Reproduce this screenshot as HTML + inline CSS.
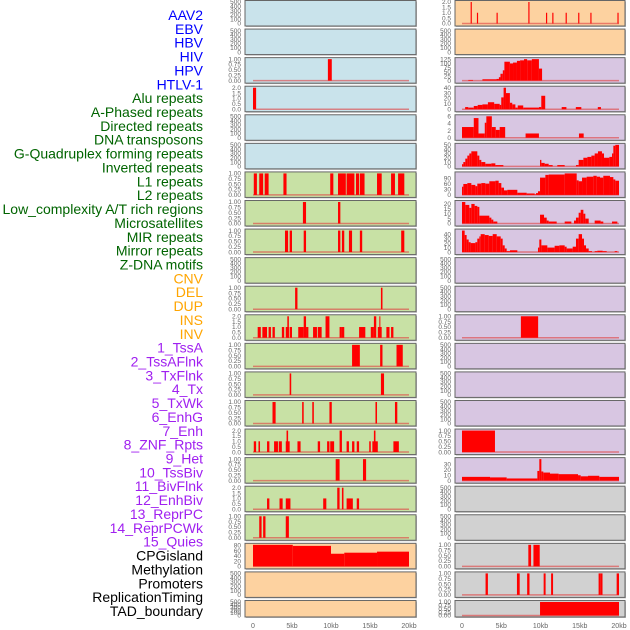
<!DOCTYPE html>
<html><head><meta charset="utf-8"><style>
html,body{margin:0;padding:0;background:#fff;width:630px;height:630px;overflow:hidden}
svg{display:block;font-family:"Liberation Sans",sans-serif}
</style></head><body>
<svg id="chart" width="630" height="630" viewBox="0 0 630 630"></svg>
<script>
// ---- labels ----
const trackLabels=["AAV2","EBV","HBV","HIV","HPV","HTLV-1","Alu repeats","A-Phased repeats","Directed repeats","DNA transposons","G-Quadruplex forming repeats","Inverted repeats","L1 repeats","L2 repeats","Low_complexity A/T rich regions","Microsatellites","MIR repeats","Mirror repeats","Z-DNA motifs","CNV","DEL","DUP","INS","INV","1_TssA","2_TssAFlnk","3_TxFlnk","4_Tx","5_TxWk","6_EnhG","7_Enh","8_ZNF_Rpts","9_Het","10_TssBiv","11_BivFlnk","12_EnhBiv","13_ReprPC","14_ReprPCWk","15_Quies","CPGisland","Methylation","Promoters","ReplicationTiming","TAD_boundary"];
const labelGroups=[6,13,5,15,5];
const xTickKb=[0,5,10,15,20];
const xTickLabels=["0","5kb","10kb","15kb","20kb"];
// ---- tick label sets ----
const T500=["0","100","200","300","400","500"];
const T1=["0.00","0.25","0.50","0.75","1.00"];
const T2=["0.0","0.5","1.0","1.5","2.0"];
const T125=["0","25","50","75","100","125"];
const T40=["0","10","20","30","40"];
const T6=["0","2","4","6"];
const T50=["0","10","20","30","40","50"];
const T90=["0","30","60","90"];
const T20=["0","5","10","15","20"];
const T30=["0","10","20","30"];
const T80=["0","20","40","60","80"];
// ---- series: [startKb,endKb,value] ----
const hivLeft=[[9.6,10.1,1]];
const hpvLeft=[[0,0.4,2]];
const l1Left=[[0.1,0.5,1],[0.8,1.3,1],[1.5,2.0,1],[3.9,4.3,1],[9.9,10.3,1],[10.9,11.9,1],[12.0,13.0,1],[13.2,13.6,1],[13.7,14.3,1],[15.9,16.5,1],[17.7,18.2,1],[18.6,19.4,1]];
const l2Left=[[6.4,6.8,1],[10.9,11.2,1]];
const lowCompLeft=[[4.1,4.5,1],[4.7,5.0,1],[6.5,6.8,1],[10.9,11.2,1],[11.4,11.7,1],[12.3,12.7,1],[13.7,14.0,1],[19.0,19.4,1]];
const delLeft=[[5.4,5.7,1],[16.4,16.6,1]];
const dupLeft=[[0.6,1.0,1],[1.2,1.8,1],[2.0,2.3,1],[2.5,2.8,1],[3.7,4.0,1],[4.2,4.6,1],[4.4,4.6,2],[4.7,5.0,1],[5.8,6.5,1],[6.5,6.8,2],[6.8,7.1,1],[7.7,8.2,1],[8.3,8.8,1],[9.3,9.8,2],[11.1,11.4,1],[11.4,11.7,1],[13.6,14.4,1],[15.1,15.5,1],[15.5,15.8,2],[16.0,16.5,1],[16.2,16.3,2],[17.1,17.5,1],[17.7,18.0,1]];
const insLeft=[[12.7,13.7,1],[16.3,16.6,1],[18.4,19.2,1]];
const invLeft=[[4.7,4.9,1],[16.4,16.8,1]];
const tssaLeft=[[2.5,2.9,1],[6.3,6.5,1],[7.6,7.8,1],[9.8,10.1,1],[15.7,15.9,1],[18.2,18.5,1]];
const flnkLeft=[[0.1,0.4,1],[0.7,0.9,1],[1.8,2.1,1],[2.7,3.2,1],[3.3,3.7,1],[4.2,4.7,1],[4.3,4.5,2],[5.7,6.1,1],[8.3,8.6,1],[9.5,9.8,1],[9.9,10.4,1],[11.1,11.4,2],[12.0,12.3,1],[12.7,13.0,1],[13.3,13.6,1],[14.9,15.1,1],[15.3,16.0,1],[15.5,15.7,2],[18.0,18.7,1]];
const txLeft=[[10.6,11.1,1],[14.1,14.5,1]];
const txwkLeft=[[1.8,2.1,1],[3.4,3.8,1],[4.2,4.8,1],[9.0,9.4,1],[10.8,11.1,2],[11.4,11.6,2],[12.0,12.8,1],[13.3,13.6,1]];
const enhgLeft=[[0.8,1.1,1],[1.3,1.6,1],[4.2,4.6,1]];
const methylLeft=[[0,5.1,82],[5.1,10.0,78],[10.0,11.7,48],[11.7,15.9,52],[15.9,20,56]];
const aavRight=[[1.1,1.25,2],[1.9,2.05,1],[4.4,4.55,1],[8.45,8.6,2],[10.7,10.85,1],[11.5,11.65,1],[13.2,13.35,1],[14.8,14.95,1],[16.35,16.5,1],[19.8,19.95,1]];
const hivRight=[[0.8,1.4,4],[2.6,4.4,8],[4.4,4.7,10],[4.7,4.9,20],[4.9,5.2,40],[5.2,5.4,60],[5.4,6.1,110],[6.1,6.5,100],[6.5,7.0,105],[7.0,7.4,115],[7.4,7.9,118],[7.9,8.3,125],[8.3,8.9,118],[8.9,9.8,125],[9.8,10.2,70]];
const hpvRight=[[0.4,0.8,4],[0.8,1.5,3],[1.5,2.0,6],[2.0,2.6,8],[2.6,3.3,9],[3.3,4.1,13],[4.1,4.8,10],[4.8,5.0,8],[5.0,5.3,22],[5.3,5.6,40],[5.6,6.1,30],[6.1,6.4,12],[6.4,6.8,9],[6.8,7.1,3],[7.1,7.8,7],[7.8,9.8,3],[9.8,10.1,4],[10.1,10.6,25],[12.7,13.3,4],[14.5,15.2,4],[17.3,17.7,4]];
const aluRight=[[0,1.5,3],[1.5,2.1,5.5],[2.1,2.9,1.2],[2.9,3.1,4.2],[3.1,3.8,6],[3.8,4.3,3],[4.3,4.8,2.2],[4.8,5.5,3],[8.1,9.8,1.2],[14.9,15.5,1.2]];
const gquadRight=[[0,0.17,5],[0.17,0.42,10],[0.42,0.68,18],[0.68,0.93,25],[0.93,1.19,30],[1.19,1.95,35],[1.95,2.21,25],[2.21,2.46,15],[2.46,2.97,10],[2.97,3.74,6],[3.74,4.25,7],[4.25,5.27,3],[9.94,10.11,15],[10.11,10.53,8],[10.53,11.04,6],[11.04,11.55,3],[12.14,13.08,3],[14.52,14.86,3],[14.86,15.46,15],[15.46,15.97,20],[15.97,16.48,22],[16.48,16.9,25],[16.9,17.32,30],[17.32,17.83,35],[17.83,18.09,30],[18.09,18.77,20],[18.77,19.11,22],[19.11,19.28,30],[19.28,19.53,48],[19.53,20,50]];
const l1Right=[[0,0.17,45],[0.17,0.68,60],[0.68,1.19,65],[1.19,1.7,55],[1.7,1.95,48],[1.95,2.46,62],[2.46,2.97,65],[2.97,3.48,62],[3.48,4.25,75],[4.25,4.67,78],[4.67,5.01,65],[5.01,5.35,40],[5.35,5.77,25],[5.77,7.05,28],[7.05,8.24,12],[8.24,9.26,8],[9.26,9.43,3],[9.43,9.68,10],[9.68,9.94,20],[9.94,10.62,95],[10.62,11.04,110],[11.04,13.08,112],[13.08,14.61,118],[14.61,14.86,80],[14.86,15.29,75],[15.29,15.88,95],[15.88,16.73,100],[16.73,17.16,105],[17.16,17.58,100],[17.58,18.0,95],[18.0,18.85,105],[18.85,19.28,98],[19.28,19.53,85],[19.53,20,78]];
const lowCompRight=[[0,0.42,22],[0.42,0.93,19],[0.93,1.19,16],[1.19,1.61,20],[1.61,1.95,18],[1.95,2.21,17],[2.21,3.48,8],[3.48,3.74,6],[3.74,3.99,4],[3.99,4.5,2],[9.94,10.45,9],[10.45,10.79,6],[10.79,11.04,3],[11.04,12.06,2],[13.08,13.93,2],[14.27,14.52,3],[14.52,14.86,6],[14.86,15.12,11],[15.12,15.46,14],[15.46,15.71,10],[15.71,16.14,5],[16.9,17.66,3],[17.66,18.0,2],[19.11,19.79,2]];
const mirRight=[[0,0.34,48],[0.34,0.59,38],[0.59,0.85,28],[0.85,1.1,22],[1.1,1.7,20],[1.7,1.95,22],[1.95,2.21,30],[2.21,2.38,35],[2.38,2.89,40],[2.89,3.4,38],[3.4,3.91,36],[3.91,4.42,40],[4.42,4.93,35],[4.93,5.18,30],[5.18,5.44,15],[5.44,5.69,8],[5.69,6.11,2],[6.11,7.05,4],[9.68,9.85,10],[9.85,10.11,28],[10.11,10.87,15],[10.87,11.8,10],[11.8,12.4,14],[12.4,13.08,15],[13.08,13.33,12],[13.33,14.1,8],[14.1,14.52,12],[14.52,14.86,30],[14.86,15.29,40],[15.29,15.54,30],[15.54,15.8,15],[15.8,16.14,8],[16.14,16.56,2],[16.9,17.24,2],[17.24,17.92,3],[17.92,18.43,2],[19.45,19.79,2]];
const insRight=[[7.5,9.7,1]];
const enhRight=[[0,4.2,1]];
const tssbivRight=[[0,3.57,7],[3.57,5.69,6],[5.69,9.6,4],[9.6,9.85,18],[9.85,10.11,40],[10.11,10.36,17],[10.36,11.21,15],[11.21,12.31,13],[12.31,14.78,12],[14.78,15.12,10],[15.12,16.05,8],[16.05,17.49,9],[17.49,20,7]];
const cpgRight=[[8.45,8.8,1],[9.1,9.9,1]];
const promRight=[[3.0,3.3,1],[7.0,7.35,1],[8.3,8.6,1],[10.4,10.65,1],[11.35,11.6,1],[17.4,17.6,1],[17.6,17.9,1],[19.7,20,1]];
const tadRight=[[9.94,20,1]];
</script>
<script>
const NS="http://www.w3.org/2000/svg";
const svg=document.getElementById("chart");
const BG={b:"#c9e3eb",g:"#c8e1a5",o:"#fdd2a0",p:"#d8c6e2",s:"#d1d1d1"};
// panels: [col,row,bg,series,ticks,max,name]
const panels=[
[0,0,"b",null,T500,500,"aav2-left"],[0,1,"b",null,T500,500,"ebv-left"],[0,2,"b",hivLeft,T1,1,"hiv-left"],[0,3,"b",hpvLeft,T2,2,"hpv-left"],[0,4,"b",null,T500,500,"alu-left"],[0,5,"b",null,T500,500,"gquad-left"],
[0,6,"g",l1Left,T1,1,"l1-left"],[0,7,"g",l2Left,T1,1,"l2-left"],[0,8,"g",lowCompLeft,T1,1,"lowcomp-left"],[0,9,"g",null,T500,500,"zdna-left"],[0,10,"g",delLeft,T1,1,"del-left"],[0,11,"g",dupLeft,T2,2,"dup-left"],[0,12,"g",insLeft,T1,1,"ins-left"],[0,13,"g",invLeft,T1,1,"inv-left"],[0,14,"g",tssaLeft,T1,1,"tssa-left"],[0,15,"g",flnkLeft,T2,2,"flnk-left"],[0,16,"g",txLeft,T1,1,"tx-left"],[0,17,"g",txwkLeft,T2,2,"txwk-left"],[0,18,"g",enhgLeft,T1,1,"enhg-left"],
[0,19,"o",methylLeft,T80,82,"methylation-left"],[0,20,"o",null,T500,500,"promoters-left"],[0,21,"o",null,T500,500,"tad-left"],
[1,0,"o",aavRight,T2,2,"aav2-right"],[1,1,"o",null,T500,500,"ebv-right"],[1,2,"p",hivRight,T125,125,"hiv-right"],[1,3,"p",hpvRight,T40,40,"hpv-right"],[1,4,"p",aluRight,T6,6,"alu-right"],[1,5,"p",gquadRight,T50,50,"gquad-right"],[1,6,"p",l1Right,T90,118,"l1-right"],[1,7,"p",lowCompRight,T20,22,"lowcomp-right"],[1,8,"p",mirRight,T40,48,"mir-right"],
[1,9,"p",null,T500,500,"zdna-right"],[1,10,"p",null,T500,500,"del-right"],[1,11,"p",insRight,T1,1,"ins-right"],[1,12,"p",null,T500,500,"tssa-right"],[1,13,"p",null,T500,500,"flnk-right"],[1,14,"p",null,T500,500,"txwk-right"],[1,15,"p",enhRight,T1,1,"enh-right"],[1,16,"p",tssbivRight,T30,40,"tssbiv-right"],
[1,17,"s",null,T500,500,"bivflnk-right"],[1,18,"s",null,T500,500,"reprpc-right"],[1,19,"s",cpgRight,T1,1,"cpg-right"],[1,20,"s",promRight,T1,1,"promoters-right"],[1,21,"s",tadRight,T1,1,"tad-right"]];
const colX=[{l:245,r:416,x0:253,x1:409,tx:241},{l:455,r:625,x0:462,x1:619,tx:451}];
function el(t,a,p){const e=document.createElementNS(NS,t);for(const k in a)e.setAttribute(k,a[k]);(p||svg).appendChild(e);return e;}
function xs(c,kb){const C=colX[c];return C.x0+(C.x1-C.x0)*kb/20;}
panels.forEach(P=>{
  const [c,r,bg,ser,ticks,max,name]=P;
  const C=colX[c];
  const top=r*28.57+0.5, h=(r===21?16.5:25.5), bot=top+h;
  const pt=top+1.5, pb=bot-(r===21?1.5:2.5);
  const ys=v=>pb-(pb-pt)*v/max;
  const g=el("g",{});
  
  
  el("rect",{x:C.l+1,y:top+1,width:C.r-C.l,height:h,fill:"#bbb"},g);
  el("rect",{x:C.l,y:top,width:C.r-C.l,height:h,fill:BG[bg],stroke:"#666","stroke-width":1},g);
  const n=ticks.length;
  ticks.forEach((t,i)=>{
    const v=max===500?i*100:(parseFloat(t));
    const tt=el("text",{x:C.tx,y:ys(v)+2.2,"font-size":6.5,fill:"#666","text-anchor":"end"},g);
    tt.textContent=t;
    
    
  });
  if(ser){
    el("line",{x1:xs(c,0),x2:xs(c,20),y1:pb,y2:pb,stroke:"#e04040","stroke-width":1.5,opacity:0.6},g);
    ser.forEach(s=>{
      const x=xs(c,s[0]),w=Math.max(1,xs(c,s[1])-x);
      const b=el("rect",{x:x,y:ys(s[2]),width:w,height:pb-ys(s[2]),fill:"#ff0000"},g);
      
      
    });
  }
});
// x axes
[0,1].forEach(c=>{
  xTickKb.forEach((k,i)=>{
    const t=el("text",{x:xs(c,k),y:628,"font-size":7,fill:"#666","text-anchor":"middle"});
    t.textContent=xTickLabels[i];
    
    
  });
});
// track labels
const gColors=["#0000ff","#006400","#ffa500","#a020f0","#000000"];
let gi=0,cnt=0;
trackLabels.forEach((lab,i)=>{
  if(cnt>=labelGroups[gi]){gi++;cnt=0;}
  cnt++;
  const t=el("text",{x:203,y:15+i*13.86+5,"font-size":14,fill:gColors[gi],"text-anchor":"end"});
  t.textContent=lab;
  
  
});
</script>
</body></html>
